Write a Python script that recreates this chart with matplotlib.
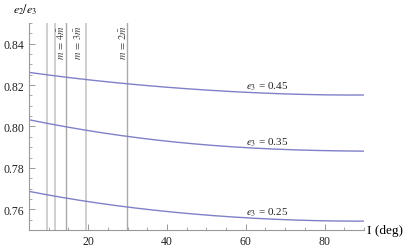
import numpy as np
import matplotlib.pyplot as plt
from matplotlib.ticker import MultipleLocator
from numpy.polynomial import polynomial as P

plt.rcParams['font.family'] = ['Liberation Serif', 'DejaVu Serif']
plt.rcParams['mathtext.fontset'] = 'stix'

# inclination (deg) and e2/e3
inc = [5, 10, 15, 20, 30, 40, 50, 60, 70, 80, 90]
ratio_045 = [0.8262, 0.8248, 0.8236, 0.8226, 0.8207, 0.8190, 0.8175, 0.8165, 0.8158, 0.8153, 0.8152]
ratio_035 = [0.8032, 0.8015, 0.7996, 0.7980, 0.7952, 0.7929, 0.7911, 0.7898, 0.7889, 0.7883, 0.7881]
ratio_025 = [0.7686, 0.7670, 0.7652, 0.7637, 0.7610, 0.7590, 0.7572, 0.7559, 0.7550, 0.7544, 0.7543]
curve_labels = [r'$e_3$ = 0.45', r'$e_3$ = 0.35', r'$e_3$ = 0.25']

# vertical reference lines (resonances)
vlines = [9.6, 11.5, 14.4, 19.5, 29.9]
vline_colors = ['#cccccc', '#cccccc', '#aaaaaa', '#cccccc', '#aaaaaa']
vline_widths = [1.3, 1.3, 1.0, 1.3, 1.0]
res_labels = [r'$m\,=\,4\bar{m}$', r'$m\,=\,3\bar{m}$', r'$m\,=\,2\bar{m}$']
res_label_x = [13.0, 17.3, 28.6]

fig = plt.figure(figsize=(4.15, 2.51), dpi=100)
ax = fig.add_axes([0.0699, 0.0797, 0.8072, 0.8247])

for xv, c, w in zip(vlines, vline_colors, vline_widths):
    ax.axvline(xv, color=c, lw=w, zorder=1)

x = np.array(inc)
xs = np.linspace(5, 90, 200)
for ys, lab in zip([ratio_045, ratio_035, ratio_025], curve_labels):
    # smooth between read points
    coef = P.polyfit(x, np.array(ys), 4)
    ax.plot(xs, P.polyval(xs, coef), color='#8080c8', lw=1.0, zorder=2)
    ax.text(65.5, P.polyval(65.5, coef) + 0.0006, lab, ha='center', va='bottom',
            fontsize=8, color='#222222')

for xt, lab in zip(res_label_x, res_labels):
    ax.text(xt, 0.8495, lab, rotation=90, ha='center', va='top', fontsize=7.5,
            color='#444444')

ax.set_xlim(5, 90)
ax.set_ylim(0.75, 0.85)
ax.xaxis.set_major_locator(MultipleLocator(20))
ax.xaxis.set_minor_locator(MultipleLocator(5))
ax.yaxis.set_minor_locator(MultipleLocator(0.005))
ax.set_yticks([0.76, 0.78, 0.80, 0.82, 0.84])
ax.set_yticklabels(['0.76', '0.78', '0.80', '0.82', '0.84'])

for s in ['top', 'right']:
    ax.spines[s].set_visible(False)
for s in ['left', 'bottom']:
    ax.spines[s].set_color('#999999')
    ax.spines[s].set_linewidth(0.8)
ax.tick_params(which='both', direction='in', color='#999999', labelsize=8.5,
               labelcolor='#222222')
ax.tick_params(which='major', length=4, width=0.7, pad=3.5)
ax.tick_params(which='minor', length=2.5, width=0.6)

fig.text(0.031, 0.962, r'$e_2/e_3$', fontsize=8.5, va='center', ha='left')
fig.text(0.884, 0.0797, 'I (deg)', fontsize=9.5, va='center', ha='left')

fig.savefig('out.png', dpi=100)
